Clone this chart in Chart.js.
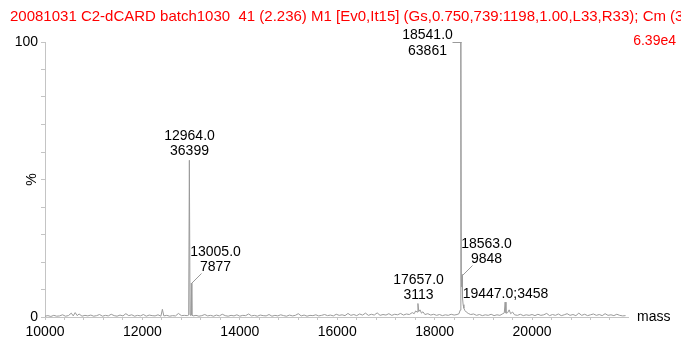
<!DOCTYPE html>
<html>
<head>
<meta charset="utf-8">
<script src="https://cdn.jsdelivr.net/npm/chart.js@4/dist/chart.umd.min.js"></script>
<style>
  html, body { margin: 0; padding: 0; background: #fff; }
  #spec { display: block; }
</style>
</head>
<body>
<canvas id="spec" width="681" height="346"></canvas>
<script>
// spectrum: mass and relative intensity (%)
const MASS = [
  10000, 10060, 10120, 10180, 10240, 10300, 10360, 10420, 10480, 10540, 10580, 10620, 10660, 10700, 10760,
  10820, 10880, 10940, 11000, 11060, 11120, 11180, 11240, 11300, 11360, 11420, 11480, 11540, 11600, 11660,
  11720, 11780, 11840, 11900, 11960, 12020, 12080, 12140, 12200, 12260, 12320, 12380, 12410, 12440, 12500,
  12560, 12620, 12680, 12740, 12800, 12860, 12920, 12950, 12964, 12978, 12995, 13005, 13015, 13040, 13100,
  13160, 13220, 13280, 13340, 13400, 13460, 13520, 13580, 13640, 13700, 13760, 13820, 13880, 13940, 14000,
  14060, 14120, 14180, 14240, 14300, 14360, 14420, 14480, 14540, 14600, 14660, 14720, 14780, 14840, 14900,
  14960, 15020, 15080, 15140, 15200, 15260, 15320, 15380, 15440, 15500, 15560, 15620, 15680, 15740, 15800,
  15860, 15920, 15980, 16040, 16100, 16160, 16220, 16280, 16340, 16400, 16460, 16520, 16580, 16640, 16700,
  16760, 16820, 16880, 16940, 17000, 17060, 17120, 17180, 17240, 17300, 17360, 17420, 17480, 17540, 17580,
  17610, 17640, 17657, 17675, 17700, 17730, 17760, 17800, 17860, 17920, 17980, 18040, 18100, 18160, 18220,
  18280, 18340, 18400, 18460, 18500, 18525, 18535, 18541, 18548, 18556, 18563, 18572, 18585, 18600, 18620,
  18650, 18690, 18740, 18800, 18860, 18920, 18980, 19040, 19100, 19160, 19220, 19280, 19340, 19400, 19430,
  19447, 19465, 19500, 19530, 19560, 19600, 19640, 19700, 19760, 19820, 19880, 19940, 20000, 20060, 20120,
  20180, 20240, 20300, 20360, 20420, 20480, 20540, 20600, 20660, 20720, 20780, 20840, 20900, 20960, 21020,
  21080, 21140, 21200, 21260, 21320, 21380, 21440, 21500, 21560, 21620, 21680, 21740, 21800, 21860, 21920
];
const INTENSITY = [
  0.3, 0.5, 0.2, 0.6, 0.3, 0.4, 0.8, 0.3, 0.5, 1.4, 0.4, 1.6, 0.5, 1.1, 0.3,
  0.6, 0.4, 0.7, 0.3, 0.5, 0.9, 0.3, 0.6, 0.4, 1.0, 0.5, 0.3, 0.7, 0.4, 1.2,
  0.5, 0.8, 0.3, 0.6, 0.4, 0.9, 0.3, 0.7, 0.5, 0.4, 0.8, 0.3, 2.8, 0.4, 0.6,
  0.3, 0.5, 0.4, 1.3, 0.5, 0.6, 0.5, 0.7, 57.0, 0.8, 0.6, 12.3, 0.7, 0.4, 0.6,
  0.3, 0.5, 0.9, 0.4, 0.6, 0.3, 0.7, 0.4, 1.0, 0.5, 0.3, 0.6, 0.4, 0.8, 0.3,
  0.6, 0.5, 1.1, 0.4, 0.6, 0.3, 0.7, 0.5, 0.4, 0.9, 0.3, 0.6, 0.4, 0.8, 0.5,
  0.3, 0.7, 0.4, 0.6, 1.2, 0.4, 0.7, 0.3, 0.6, 0.5, 0.8, 0.4, 0.6, 0.9, 0.5,
  0.7, 0.4, 1.0, 0.6, 0.8, 0.5, 1.3, 0.6, 0.9, 0.5, 1.1, 0.7, 1.4, 0.6, 1.0,
  0.7, 1.5, 0.6, 0.9, 0.7, 1.2, 0.6, 1.0, 0.8, 1.3, 0.7, 1.1, 0.9, 1.6, 1.2,
  2.2, 1.8, 4.9, 2.0, 2.6, 1.4, 1.9, 0.9, 1.2, 0.7, 1.0, 0.6, 0.9, 0.5, 0.8,
  0.6, 1.0, 0.7, 0.9, 1.2, 2.5, 8.0, 100.0, 14.0, 11.0, 15.4, 7.0, 4.5, 3.2, 2.4,
  1.8, 1.3, 0.9, 1.1, 0.6, 0.9, 0.5, 0.8, 0.6, 1.0, 0.5, 0.8, 0.6, 1.2, 1.5,
  5.4, 1.4, 1.6, 2.6, 1.2, 1.8, 0.8, 0.6, 1.0, 0.5, 0.8, 0.6, 0.9, 0.5, 1.0,
  0.6, 0.8, 1.3, 0.5, 0.9, 0.6, 1.1, 0.5, 0.8, 1.2, 0.6, 0.9, 0.5, 1.4, 0.6,
  1.0, 0.5, 0.8, 1.1, 0.6, 0.9, 0.5, 1.2, 0.6, 0.8, 0.5, 1.0, 0.6, 0.4, 0.5
];

// axis ticks
const X_LABELLED = [10000, 12000, 14000, 16000, 18000, 20000];
const X_MINOR = [
  10000, 10400, 10800, 11200, 11600, 12000, 12400, 12800, 13200, 13600, 14000, 14400, 14800, 15200, 15600,
  16000, 16400, 16800, 17200, 17600, 18000, 18400, 18800, 19200, 19600, 20000, 20400, 20800, 21200, 21600
];
const Y_LABELLED = [0, 100];

// labelled peaks
const PEAK_MASS = [12964, 13005, 17657, 18541, 18563, 19447];
const PEAK_PCT = [57.0, 12.3, 4.9, 100.0, 15.4, 5.4];
const PEAK_CENTROID = ['12964.0', '13005.0', '17657.0', '18541.0', '18563.0', '19447.0'];
const PEAK_COUNTS = ['36399', '7877', '3113', '63861', '9848', '3458'];
const PEAK_KIND = ['above', 'leader', 'above', 'bracket', 'leader', 'inline'];

const TITLE = '20081031 C2-dCARD batch1030  41 (2.236) M1 [Ev0,It15] (Gs,0.750,739:1198,1.00,L33,R33); Cm (3';
const BASE_PEAK = '6.39e4';

const FONT = '"Liberation Sans", Arial, sans-serif';
const AXIS_GREY = '#c4c4c4';
const TRACE_GREY = '#9a9a9a';

Chart.defaults.font.family = FONT;
Chart.defaults.font.size = 14;
Chart.defaults.color = '#000';

function get_points() {
  return MASS.map( ( m, i ) => ( { x: m, y: INTENSITY[ i ] } ) );
}

// text + leader lines drawn on top, positioned through the scales
const annotate_plugin = {
  id: 'annotate',
  afterDraw( chart ) {
    const ctx = chart.ctx;
    const xs = chart.scales.x;
    const ys = chart.scales.y;
    ctx.save();

    // header
    ctx.font = '15px ' + FONT;
    ctx.fillStyle = '#ff0000';
    ctx.textBaseline = 'middle';
    ctx.textAlign = 'left';
    ctx.fillText( TITLE, 10, 17 );
    ctx.font = '14px ' + FONT;
    ctx.textAlign = 'right';
    ctx.fillText( BASE_PEAK, 676, 41 );

    // axis words
    ctx.fillStyle = '#000';
    ctx.textAlign = 'left';
    ctx.fillText( 'mass', xs.right + 9, ys.getPixelForValue( 0 ) );
    ctx.save();
    ctx.translate( 32, ( ys.top + ys.bottom ) / 2 );
    ctx.rotate( -Math.PI / 2 );
    ctx.textAlign = 'center';
    ctx.fillText( '%', 0, 0 );
    ctx.restore();

    // x labels (drawn here so none get dropped)
    ctx.textBaseline = 'top';
    ctx.textAlign = 'center';
    X_LABELLED.forEach( v => {
      ctx.fillText( String( v ), xs.getPixelForValue( v ), ys.bottom + 8 );
    } );
    ctx.textBaseline = 'middle';

    // peak labels
    ctx.strokeStyle = TRACE_GREY;
    ctx.lineWidth = 1;
    PEAK_MASS.forEach( ( m, i ) => {
      const px = Math.round( xs.getPixelForValue( m ) ) + 0.5;
      const py = Math.round( ys.getPixelForValue( PEAK_PCT[ i ] ) ) + 0.5;
      const kind = PEAK_KIND[ i ];
      ctx.textAlign = 'center';
      if ( kind == 'above' ) {
        ctx.fillText( PEAK_CENTROID[ i ], px, py - 24 );
        ctx.fillText( PEAK_COUNTS[ i ], px, py - 9 );
      } else if ( kind == 'leader' ) {
        ctx.beginPath();
        ctx.moveTo( px, py );
        ctx.lineTo( px + 10, py - 10 );
        ctx.stroke();
        ctx.fillText( PEAK_CENTROID[ i ], px + 24, py - 31 );
        ctx.fillText( PEAK_COUNTS[ i ], px + 24, py - 16 );
      } else if ( kind == 'bracket' ) {
        ctx.beginPath();
        ctx.moveTo( px - 9, py );
        ctx.lineTo( px, py );
        ctx.stroke();
        ctx.fillText( PEAK_CENTROID[ i ], px - 34, py - 7 );
        ctx.fillText( PEAK_COUNTS[ i ], px - 34, py + 9 );
      } else {
        ctx.fillText( PEAK_CENTROID[ i ] + ';' + PEAK_COUNTS[ i ], px, py - 8 );
      }
    } );
    ctx.restore();
  }
};

new Chart( document.getElementById( 'spec' ), {
  type: 'scatter',
  data: {
    datasets: [ {
      data: get_points(),
      showLine: true,
      borderColor: TRACE_GREY,
      borderWidth: 1,
      pointRadius: 0,
      tension: 0
    } ]
  },
  options: {
    responsive: false,
    animation: false,
    layout: { padding: { top: 42, right: 53, left: 0, bottom: 0 } },
    plugins: { legend: { display: false }, tooltip: { enabled: false } },
    scales: {
      x: {
        type: 'linear',
        min: 10000,
        max: 21970,
        afterFit: scale => { scale.height = 29; },
        afterBuildTicks: scale => { scale.ticks = X_MINOR.map( v => ( { value: v } ) ); },
        border: { color: AXIS_GREY },
        grid: { drawOnChartArea: false, color: AXIS_GREY, tickLength: 3 },
        ticks: { display: false }
      },
      y: {
        min: 0,
        max: 100,
        afterFit: scale => { scale.width = 45; },
        border: { color: AXIS_GREY },
        grid: { drawOnChartArea: false, color: AXIS_GREY, tickLength: 4 },
        ticks: {
          stepSize: 10,
          padding: 3,
          callback: v => ( Y_LABELLED.includes( v ) ? String( v ) : '' )
        }
      }
    }
  },
  plugins: [ annotate_plugin ]
} );
</script>
</body>
</html>
